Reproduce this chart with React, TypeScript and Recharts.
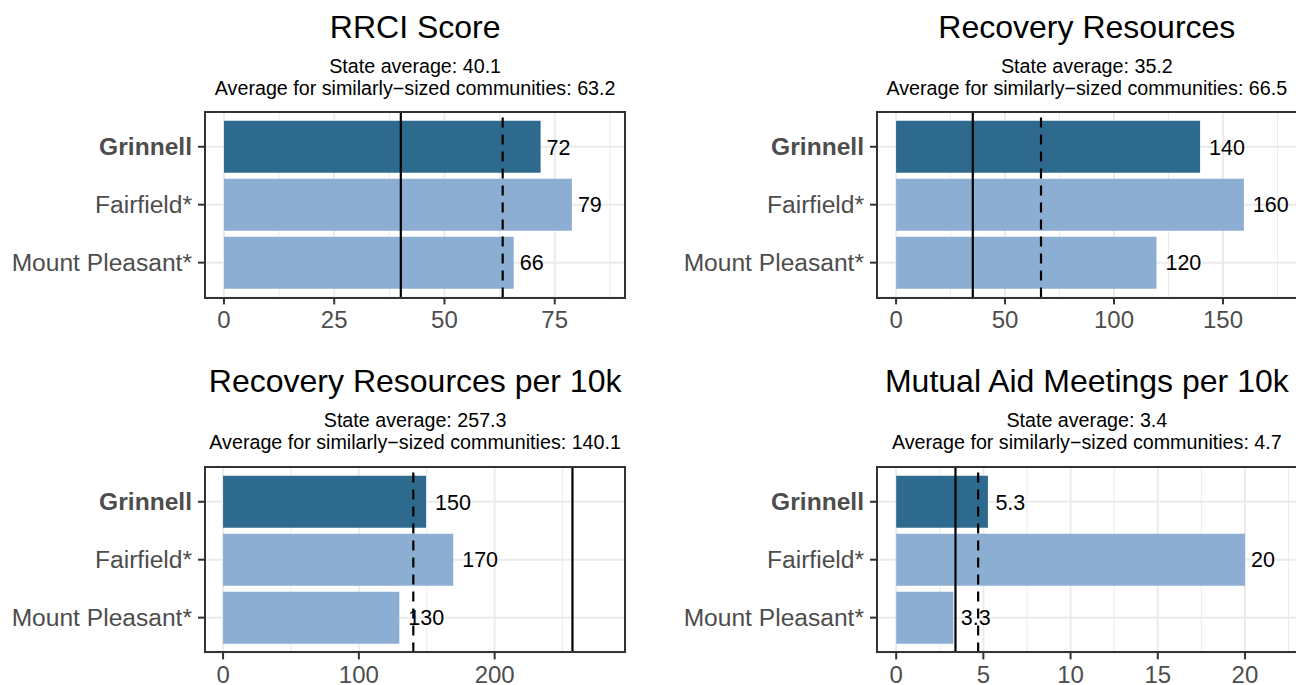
import { BarChart, Bar, XAxis, YAxis, CartesianGrid, ReferenceLine, Cell, LabelList } from "recharts";

const categories = ["Grinnell", "Fairfield*", "Mount Pleasant*"];

const rrciScore = [71.8, 78.9, 65.7];
const recoveryResources = [139.5, 159.6, 119.5];
const resourcesPer10k = [149.5, 169.5, 129.8];
const meetingsPer10k = [5.26, 20.0, 3.28];

const stateAverages = [40.1, 35.2, 257.3, 3.4];
const similarAverages = [63.2, 66.5, 140.1, 4.7];

const rrciTicks = [0, 25, 50, 75];
const rrciMinor = [12.5, 37.5, 62.5, 87.5];
const resourceTicks = [0, 50, 100, 150];
const resourceMinor = [25, 75, 125, 175];
const per10kTicks = [0, 100, 200];
const per10kMinor = [50, 150, 250];
const meetingTicks = [0, 5, 10, 15, 20];
const meetingMinor = [2.5, 7.5, 12.5, 17.5, 22.5];

const DARK = "#2E6A8E";
const LIGHT = "#8CAED2";
const FONT = "'Liberation Sans', Arial, Helvetica, sans-serif";

// layout of the 2x2 grid of panels (page pixels)
const COL_LEFT = [205, 876.7];
const ROW_TOP = [112.3, 467];
const PANEL_W = 420.3;
const PANEL_H = 185.4;
const AXIS_W = 205;
const AXIS_H = 45;

type Panel = {
  title: string;
  values: number[];
  state: number;
  similar: number;
  domain: [number, number];
  ticks: number[];
  minor: number[];
  col: number;
  row: number;
};

const panels: Panel[] = [
  { title: "RRCI Score", values: rrciScore, state: stateAverages[0], similar: similarAverages[0], domain: [-4.3, 91.0], ticks: rrciTicks, minor: rrciMinor, col: 0, row: 0 },
  { title: "Recovery Resources", values: recoveryResources, state: stateAverages[1], similar: similarAverages[1], domain: [-8.75, 184.1], ticks: resourceTicks, minor: resourceMinor, col: 1, row: 0 },
  { title: "Recovery Resources per 10k", values: resourcesPer10k, state: stateAverages[2], similar: similarAverages[2], domain: [-13.3, 296.2], ticks: per10kTicks, minor: per10kMinor, col: 0, row: 1 },
  { title: "Mutual Aid Meetings per 10k", values: meetingsPer10k, state: stateAverages[3], similar: similarAverages[3], domain: [-1.1, 23.0], ticks: meetingTicks, minor: meetingMinor, col: 1, row: 1 },
];

const signif2 = (v: number) => String(Number(v.toPrecision(2)));

const CategoryTick = (props: any) => {
  const { x, y, payload } = props;
  const bold = payload.value === "Grinnell";
  return (
    <text x={x} y={y} dy="0.355em" textAnchor="end" fontSize={24.6} fill="#4D4D4D" fontWeight={bold ? "bold" : "normal"}>
      {payload.value}
    </text>
  );
};

const ValueLabel = (props: any) => {
  const { x, y, width, height, value } = props;
  const text = signif2(value);
  const textW = text.split("").reduce((s, c) => s + (c === "." ? 0.278 : 0.556), 0) * 21.5;
  return (
    <text x={x + width + textW * 0.25} y={y + height / 2} dy="0.36em" fontSize={21.5} fill="#000">
      {text}
    </text>
  );
};

const PanelChart = ({ p }: { p: Panel }) => {
  const data = categories.map((name, i) => ({ name, value: p.values[i] }));
  const left = COL_LEFT[p.col] - AXIS_W;
  const top = ROW_TOP[p.row] - 2;
  return (
    <div style={{ position: "absolute", left, top }}>
      <BarChart
        width={AXIS_W + PANEL_W + 10}
        height={2 + PANEL_H + AXIS_H}
        data={data}
        layout="vertical"
        margin={{ top: 2, right: 10, left: 0, bottom: 0 }}
      >
        <CartesianGrid stroke="#EBEBEB" strokeWidth={1} horizontal={false} xAxisId="minor" />
        <CartesianGrid stroke="#EBEBEB" strokeWidth={2} />
        <XAxis
          type="number"
          domain={p.domain}
          ticks={p.ticks}
          interval={0}
          allowDataOverflow
          height={AXIS_H}
          axisLine={false}
          tickSize={7}
          tickMargin={7}
          tickLine={{ stroke: "#333333", strokeWidth: 2 }}
          tick={{ fill: "#4D4D4D", fontSize: 24 }}
        />
        <XAxis xAxisId="minor" type="number" domain={p.domain} ticks={p.minor} interval={0} allowDataOverflow hide />
        <YAxis
          type="category"
          dataKey="name"
          width={AXIS_W}
          axisLine={false}
          tickSize={7}
          tickMargin={6}
          tickLine={{ stroke: "#333333", strokeWidth: 2 }}
          tick={<CategoryTick />}
          padding={{ top: 5.8, bottom: 5.8 }}
          interval={0}
        />
        <Bar dataKey="value" barSize={52} isAnimationActive={false}>
          {data.map((d) => (
            <Cell key={d.name} fill={d.name === "Grinnell" ? DARK : LIGHT} />
          ))}
          <LabelList dataKey="value" content={<ValueLabel />} />
        </Bar>
        <ReferenceLine x={p.state} stroke="#000" strokeWidth={2.2} />
        <ReferenceLine x={p.similar} stroke="#000" strokeWidth={2.2} strokeDasharray="10 7" />
      </BarChart>
      <div
        style={{
          position: "absolute",
          left: AXIS_W - 1,
          top: 1,
          width: PANEL_W + 2,
          height: PANEL_H + 2,
          border: "2px solid #333333",
          boxSizing: "border-box",
          pointerEvents: "none",
        }}
      />
    </div>
  );
};

const Titles = () => (
  <svg width={1296} height={685} style={{ position: "absolute", left: 0, top: 0, pointerEvents: "none" }}>
    {panels.map((p) => {
      const cx = COL_LEFT[p.col] + PANEL_W / 2;
      const dy = p.row === 0 ? 0 : ROW_TOP[1] - ROW_TOP[0];
      return (
        <g key={p.title} textAnchor="middle" fill="#000">
          <text x={cx} y={37.5 + dy} fontSize={32}>{p.title}</text>
          <text x={cx} y={72.5 + dy} fontSize={19.7}>{`State average: ${p.state}`}</text>
          <text x={cx} y={94.5 + dy} fontSize={19.7}>{`Average for similarly−sized communities: ${p.similar}`}</text>
        </g>
      );
    })}
  </svg>
);

export default function App() {
  return (
    <div style={{ position: "absolute", left: 0, top: 0, width: 1296, height: 685, overflow: "hidden", background: "#fff", fontFamily: FONT }}>
      {panels.map((p) => (
        <PanelChart key={p.title} p={p} />
      ))}
      <Titles />
    </div>
  );
}
